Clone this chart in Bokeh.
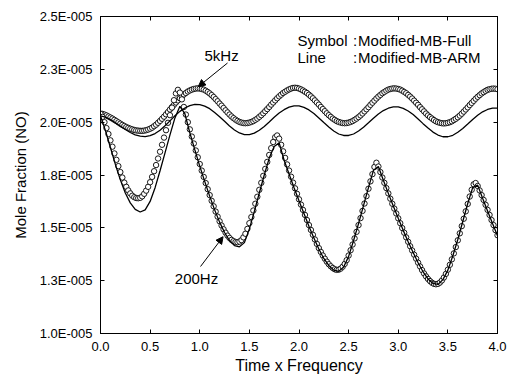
from bokeh.plotting import figure
from bokeh.models import (ColumnDataSource, Range1d, LinearAxis, FixedTicker,
                          Label, Arrow, NormalHead)
from bokeh.embed import file_html
from bokeh.resources import INLINE

# ---------------- data (mole fraction in units of 1E-005) ----------------
# symbol series sampled every 0.02 of Time x Frequency
sym_time = [round(0.02 * i, 2) for i in range(201)]

full_200hz = [
    2.040, 2.025, 2.000, 1.972, 1.944, 1.914, 1.884, 1.852, 1.822, 1.792,
    1.764, 1.738, 1.714, 1.694, 1.677, 1.663, 1.652, 1.645, 1.641, 1.640,
    1.642, 1.649, 1.661, 1.676, 1.694, 1.716, 1.741, 1.768, 1.797, 1.828,
    1.860, 1.893, 1.927, 1.962, 1.997, 2.033, 2.069, 2.104, 2.136, 2.153,
    2.140, 2.108, 2.072, 2.036, 2.000, 1.966, 1.932, 1.899, 1.866, 1.834,
    1.802, 1.771, 1.741, 1.712, 1.683, 1.655, 1.628, 1.602, 1.577, 1.553,
    1.531, 1.511, 1.493, 1.477, 1.463, 1.452, 1.443, 1.437, 1.433, 1.432,
    1.435, 1.442, 1.455, 1.472, 1.495, 1.522, 1.551, 1.582, 1.614, 1.647,
    1.680, 1.713, 1.746, 1.779, 1.812, 1.845, 1.877, 1.906, 1.929, 1.937,
    1.922, 1.893, 1.862, 1.831, 1.800, 1.771, 1.742, 1.714, 1.687, 1.661,
    1.635, 1.610, 1.585, 1.561, 1.537, 1.513, 1.490, 1.467, 1.445, 1.424,
    1.404, 1.386, 1.369, 1.354, 1.340, 1.328, 1.318, 1.310, 1.304, 1.301,
    1.302, 1.307, 1.316, 1.329, 1.347, 1.369, 1.394, 1.421, 1.450, 1.481,
    1.513, 1.546, 1.580, 1.615, 1.650, 1.685, 1.720, 1.754, 1.788, 1.808,
    1.790, 1.764, 1.738, 1.713, 1.688, 1.663, 1.638, 1.614, 1.591, 1.568,
    1.545, 1.522, 1.499, 1.477, 1.455, 1.434, 1.413, 1.393, 1.373, 1.354,
    1.335, 1.317, 1.300, 1.284, 1.270, 1.258, 1.248, 1.240, 1.235, 1.233,
    1.235, 1.241, 1.251, 1.265, 1.282, 1.302, 1.325, 1.351, 1.379, 1.409,
    1.441, 1.474, 1.508, 1.543, 1.578, 1.613, 1.648, 1.680, 1.706, 1.712,
    1.698, 1.677, 1.655, 1.632, 1.609, 1.585, 1.561, 1.537, 1.513, 1.489,
    1.465,
]

full_5khz = [
    2.040, 2.039, 2.036, 2.032, 2.027, 2.022, 2.017, 2.011, 2.005, 1.999,
    1.993, 1.987, 1.982, 1.977, 1.973, 1.969, 1.966, 1.963, 1.961, 1.960,
    1.959, 1.959, 1.960, 1.962, 1.965, 1.969, 1.974, 1.981, 1.988, 1.997,
    2.006, 2.016, 2.026, 2.037, 2.048, 2.060, 2.071, 2.082, 2.093, 2.103,
    2.113, 2.122, 2.131, 2.138, 2.145, 2.150, 2.154, 2.157, 2.159, 2.160,
    2.159, 2.157, 2.154, 2.149, 2.143, 2.136, 2.128, 2.119, 2.109, 2.099,
    2.088, 2.078, 2.067, 2.056, 2.046, 2.036, 2.027, 2.019, 2.012, 2.006,
    2.001, 1.998, 1.996, 1.995, 1.996, 1.998, 2.001, 2.005, 2.011, 2.017,
    2.025, 2.033, 2.042, 2.052, 2.062, 2.072, 2.083, 2.093, 2.103, 2.113,
    2.122, 2.130, 2.138, 2.144, 2.150, 2.155, 2.159, 2.162, 2.163, 2.162,
    2.159, 2.155, 2.150, 2.144, 2.138, 2.130, 2.122, 2.113, 2.103, 2.093,
    2.083, 2.072, 2.062, 2.052, 2.042, 2.033, 2.025, 2.017, 2.011, 2.005,
    2.001, 1.998, 1.996, 1.995, 1.996, 1.998, 2.001, 2.005, 2.011, 2.017,
    2.024, 2.032, 2.041, 2.051, 2.061, 2.071, 2.082, 2.092, 2.102, 2.112,
    2.121, 2.129, 2.137, 2.143, 2.149, 2.154, 2.157, 2.159, 2.160, 2.159,
    2.157, 2.154, 2.149, 2.143, 2.137, 2.129, 2.121, 2.112, 2.102, 2.092,
    2.082, 2.071, 2.061, 2.051, 2.041, 2.032, 2.024, 2.017, 2.010, 2.004,
    2.000, 1.997, 1.995, 1.994, 1.995, 1.997, 2.000, 2.004, 2.010, 2.016,
    2.023, 2.031, 2.040, 2.050, 2.060, 2.070, 2.081, 2.091, 2.101, 2.111,
    2.120, 2.128, 2.136, 2.142, 2.148, 2.153, 2.156, 2.158, 2.159, 2.158,
    2.156,
]

# line series sampled every 0.05
line_time = [round(0.05 * i, 2) for i in range(81)]

arm_200hz = [
    2.030, 1.960, 1.880, 1.800, 1.727, 1.665, 1.618, 1.587, 1.575, 1.585,
    1.625, 1.690, 1.770, 1.855, 1.940, 2.020, 2.075, 2.040, 1.950, 1.870,
    1.792, 1.720, 1.650, 1.585, 1.527, 1.478, 1.440, 1.416, 1.410, 1.430,
    1.495, 1.578, 1.665, 1.750, 1.830, 1.885, 1.902, 1.820, 1.755, 1.690,
    1.628, 1.568, 1.508, 1.452, 1.400, 1.355, 1.322, 1.300, 1.294, 1.315,
    1.365, 1.440, 1.520, 1.605, 1.690, 1.772, 1.790, 1.725, 1.663, 1.603,
    1.545, 1.488, 1.434, 1.383, 1.335, 1.292, 1.258, 1.237, 1.232, 1.255,
    1.300, 1.368, 1.445, 1.530, 1.615, 1.690, 1.702, 1.640, 1.580, 1.520,
    1.462,
]

arm_5khz = [
    2.030, 2.024, 2.012, 1.997, 1.981, 1.965, 1.951, 1.940, 1.934, 1.932,
    1.936, 1.946, 1.962, 1.983, 2.006, 2.030, 2.051, 2.067, 2.078, 2.084,
    2.083, 2.076, 2.064, 2.046, 2.026, 2.004, 1.982, 1.963, 1.949, 1.941,
    1.941, 1.948, 1.962, 1.980, 2.001, 2.023, 2.043, 2.059, 2.071, 2.077,
    2.077, 2.070, 2.058, 2.041, 2.020, 1.998, 1.977, 1.958, 1.944, 1.937,
    1.937, 1.944, 1.958, 1.976, 1.997, 2.019, 2.039, 2.055, 2.066, 2.072,
    2.072, 2.065, 2.053, 2.036, 2.015, 1.993, 1.972, 1.953, 1.939, 1.931,
    1.931, 1.938, 1.952, 1.970, 1.991, 2.013, 2.033, 2.049, 2.060, 2.066,
    2.066,
]

x_ticks = [0.0, 0.5, 1.0, 1.5, 2.0, 2.5, 3.0, 3.5, 4.0]
x_tick_labels = ["0.0", "0.5", "1.0", "1.5", "2.0", "2.5", "3.0", "3.5", "4.0"]
y_ticks = [1.0, 1.25, 1.5, 1.75, 2.0, 2.25, 2.5]
y_tick_labels = ["1.0E-005", "1.3E-005", "1.5E-005", "1.8E-005",
                 "2.0E-005", "2.3E-005", "2.5E-005"]

FONT = "Liberation Sans"

sym_src = ColumnDataSource(dict(t=sym_time, f200=full_200hz, f5k=full_5khz))
line_src = ColumnDataSource(dict(t=line_time, a200=arm_200hz, a5k=arm_5khz))

p = figure(width=510, height=376, output_backend="svg", toolbar_location=None,
           x_range=Range1d(0, 4), y_range=Range1d(1.0, 2.5),
           min_border_left=100, min_border_right=13,
           min_border_top=16, min_border_bottom=43)
p.grid.visible = False
p.outline_line_color = "black"
p.background_fill_color = "white"
p.border_fill_color = "white"

# symbols (open circles)
for col in ("f5k", "f200"):
    p.scatter("t", col, source=sym_src, marker="circle", size=5.4,
              line_color="black", line_width=0.9, fill_color="white")
# lines
for col in ("a5k", "a200"):
    p.line("t", col, source=line_src, line_color="black", line_width=1.3)

# axes
def style_axis(ax, ticks, labels):
    ax.ticker = FixedTicker(ticks=ticks)
    ax.major_label_overrides = {t: l for t, l in zip(ticks, labels)}
    ax.major_tick_in = 4
    ax.major_tick_out = 0
    ax.minor_tick_line_color = None
    ax.axis_line_color = "black"
    ax.major_tick_line_color = "black"
    ax.major_label_text_font = FONT
    ax.major_label_text_font_size = "13px"
    ax.major_label_text_color = "black"
    ax.axis_label_text_font = FONT
    ax.axis_label_text_font_style = "normal"
    ax.axis_label_text_color = "black"

xa = p.xaxis[0]
style_axis(xa, x_ticks, x_tick_labels)
xa.axis_label = "Time x Frequency"
xa.axis_label_text_font_size = "16px"
xa.major_label_standoff = 8
xa.axis_label_standoff = 3

ya = p.yaxis[0]
style_axis(ya, y_ticks, y_tick_labels)
ya.axis_label = "Mole Fraction (NO)"
ya.axis_label_text_font_size = "15px"
ya.major_label_standoff = 8
ya.axis_label_standoff = 8

for loc, ticks in (("above", x_ticks), ("right", y_ticks)):
    ax = LinearAxis()
    style_axis(ax, ticks, ["" for _ in ticks])
    ax.major_label_text_font_size = "0px"
    ax.major_label_standoff = 0
    p.add_layout(ax, loc)

# annotations
txt = dict(text_font=FONT, text_font_size="15px", text_color="black",
           text_align="center", text_baseline="middle")
p.add_layout(Label(x=1.22, y=2.315, text="5kHz", **txt))
p.add_layout(Label(x=0.967, y=1.262, text="200Hz", **txt))

head = dict(size=7, fill_color="black", line_color="black", line_width=1)
p.add_layout(Arrow(end=NormalHead(**head), x_start=1.28, y_start=2.28,
                   x_end=0.985, y_end=2.168, line_width=1, line_color="black"))
p.add_layout(Arrow(end=NormalHead(**head), x_start=1.008, y_start=1.317,
                   x_end=1.235, y_end=1.458, line_width=1, line_color="black"))

leg = dict(text_font=FONT, text_font_size="15px", text_color="black",
           text_align="left", text_baseline="middle")
p.add_layout(Label(x=1.985, y=2.386, text="Symbol", **leg))
p.add_layout(Label(x=2.545, y=2.386, text=":", **leg))
p.add_layout(Label(x=2.595, y=2.386, text="Modified-MB-Full", **leg))
p.add_layout(Label(x=1.985, y=2.304, text="Line", **leg))
p.add_layout(Label(x=2.545, y=2.304, text=":", **leg))
p.add_layout(Label(x=2.595, y=2.304, text="Modified-MB-ARM", **leg))

open("out.html", "w").write(file_html(p, INLINE))
